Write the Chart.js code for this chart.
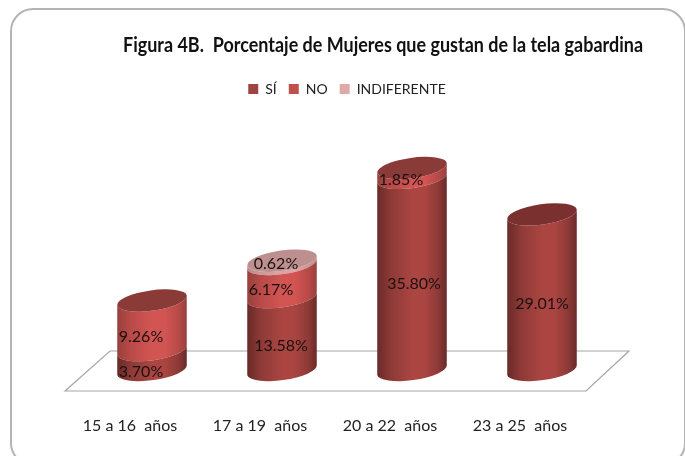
<!DOCTYPE html>
<html><head><meta charset="utf-8">
<script src="https://cdn.jsdelivr.net/npm/chart.js@4/dist/chart.umd.min.js"></script>
<style>html,body{margin:0;padding:0;background:#fff}#w{width:685px;height:456px;position:relative}canvas{display:block;filter:blur(0.35px)}</style>
</head><body><div id="w"><canvas id="c" width="685" height="456"></canvas></div>
<script>
const categories = ['15 a 16  años','17 a 19  años','20 a 22  años','23 a 25  años'];
const seriesSi = [3.70,13.58,35.80,29.01];
const seriesNo = [9.26,6.17,1.85,null];
const seriesIndiferente = [null,0.62,null,null];
const titleText = 'Figura 4B.  Porcentaje de Mujeres que gustan de la tela gabardina';
const FONT = 'Lato,"Liberation Sans",sans-serif';
const palette = [
 {legend:'#a04340',edge:'#672a28',shade:'#8e3a37',mid:'#aa4541',cap:'#7a302e'},
 {legend:'#c0504d',edge:'#96403d',shade:'#b94a48',mid:'#d25553',cap:'#8a3a37'},
 {legend:'#dfa9a8',edge:'#b98a88',shade:'#c99a98',mid:'#d9a6a4',cap:'#bd8f8e'}
];
// label shifts relative to each segment's centre [dataset][category]
const shiftX = [[-11,-1,2,0],[-11,-11,-11,0],[0,-6,0,0]];
const shiftY = [[12,12,10,12],[12,9,7,0],[0,1,0,0]];
const TILT = -8*Math.PI/180;
const RY_RATIO = 0.29;
const TITLE_SHIFT = 36;

const cylinders = {
  id:'cylinders',
  afterLayout(chart){
    chart.titleBlock.left+=TITLE_SHIFT;chart.titleBlock.right+=TITLE_SHIFT;
  },
  beforeDraw(chart){
    const {ctx,chartArea:a}=chart;
    ctx.save();
    ctx.fillStyle='#fff';ctx.fillRect(0,0,chart.width,chart.height);
    ctx.strokeStyle='#b4b4b4';ctx.lineWidth=2;
    ctx.beginPath();ctx.roundRect(11,9,674,456,22);ctx.stroke();
    const floorBottom=a.bottom+21, floorTop=a.bottom-19;
    ctx.strokeStyle='#a6a6a6';ctx.lineWidth=1.2;
    ctx.beginPath();
    ctx.moveTo(a.left-22,floorBottom);ctx.lineTo(a.left+23,floorTop);
    ctx.lineTo(a.right+22,floorTop);ctx.lineTo(a.right-21,floorBottom);ctx.closePath();ctx.stroke();
    ctx.restore();
  },
  beforeDatasetDraw(chart,args){
    const {ctx}=chart, di=args.index, meta=args.meta, pal=palette[di];
    meta.data.forEach((bar,i)=>{
      const val=chart.data.datasets[di].data[i];
      if(val==null) return;
      const rx=bar.width/2, ry=rx*RY_RATIO, x=bar.x;
      const g=ctx.createLinearGradient(x-rx,0,x+rx,0);
      g.addColorStop(0,pal.edge);g.addColorStop(0.2,pal.shade);g.addColorStop(0.5,pal.mid);
      g.addColorStop(0.68,pal.mid);g.addColorStop(0.87,pal.shade);g.addColorStop(1,pal.edge);
      const dx=rx*Math.cos(TILT), dy=rx*Math.sin(TILT);
      ctx.save();
      ctx.fillStyle=g;
      ctx.beginPath();
      ctx.ellipse(x,bar.base,rx,ry,TILT,Math.PI,0,true);
      ctx.lineTo(x+dx,bar.y+dy);
      ctx.ellipse(x,bar.y,rx,ry,TILT,0,Math.PI,false);
      ctx.closePath();ctx.fill();
      const above=chart.data.datasets.slice(di+1).some(d=>d.data[i]!=null);
      if(!above){
        ctx.fillStyle=pal.cap;
        ctx.beginPath();ctx.ellipse(x,bar.y,rx,ry,TILT,0,Math.PI*2);ctx.fill();
      }
      ctx.restore();
    });
    return false;
  },
  afterDraw(chart){
    const {ctx}=chart;
    ctx.save();
    ctx.font='16px '+FONT;ctx.fillStyle='#1a1010';ctx.textAlign='center';ctx.textBaseline='middle';
    chart.data.datasets.forEach((ds,di)=>{
      chart.getDatasetMeta(di).data.forEach((bar,i)=>{
        const v=ds.data[i]; if(v==null) return;
        ctx.fillText(v.toFixed(2)+'%',bar.x+shiftX[di][i],(bar.y+bar.base)/2+shiftY[di][i]);
      });
    });
    ctx.restore();
  }
};
new Chart(document.getElementById('c'),{
  type:'bar',
  data:{labels:categories,datasets:[
    {label:'SÍ',data:seriesSi,backgroundColor:palette[0].legend},
    {label:'NO',data:seriesNo,backgroundColor:palette[1].legend},
    {label:'INDIFERENTE',data:seriesIndiferente,backgroundColor:palette[2].legend}
  ]},
  options:{
    responsive:false,animation:false,
    layout:{padding:{left:87,right:78,top:0,bottom:0}},
    datasets:{bar:{categoryPercentage:1,barPercentage:0.54}},
    scales:{
      x:{stacked:true,grid:{display:false},border:{display:false},
         afterFit(s){s.height=86;},
         ticks:{color:'#222',font:{family:FONT,size:16},padding:38,labelOffset:-22,maxRotation:0}},
      y:{stacked:true,display:false,min:0,max:49.2}
    },
    plugins:{
      title:{display:true,text:titleText,color:'#111',font:{family:FONT,size:20,weight:'bold'},padding:{top:34,bottom:12}},
      legend:{position:'top',labels:{boxWidth:10,boxHeight:10,color:'#222',font:{family:FONT,size:14},padding:12}},
      tooltip:{enabled:false}
    }
  },
  plugins:[cylinders]
});
</script></body></html>
